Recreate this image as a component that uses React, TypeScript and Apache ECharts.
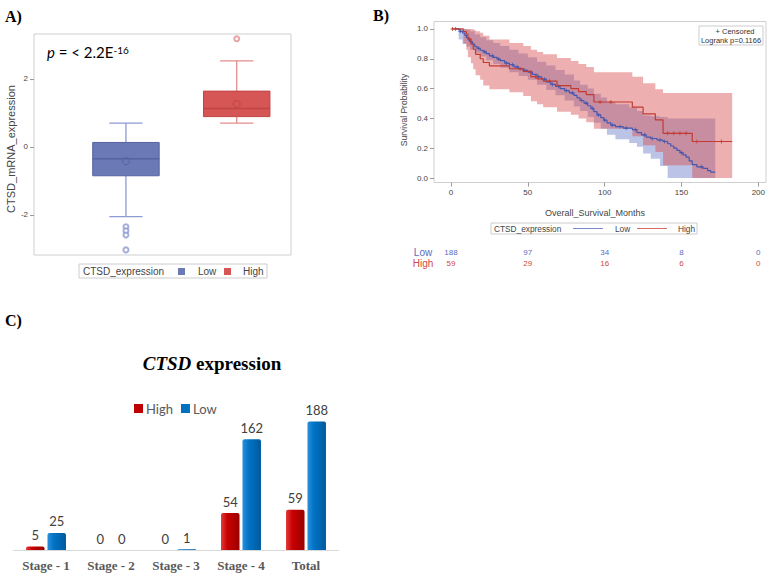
import React, { useEffect, useRef } from 'react';
import * as echarts from 'echarts';

// ---------- Panel A: boxplot ----------
const boxGroups = ['Low', 'High'];
// [min whisker, Q1, median, Q3, max whisker]
const boxStats = [
  [-2.05, -0.85, -0.35, 0.13, 0.7],
  [0.7, 0.89, 1.13, 1.64, 2.53],
];
const boxMeans = [-0.42, 1.26];
const lowOutliers = [-2.35, -2.47, -2.59, -3.03];
const highOutliers = [3.18];
const boxTicks = [-2, 0, 2];

// ---------- Panel B: Kaplan-Meier ----------
const kmLow: number[][] = [
  [3, 1.0], [5, 0.995], [6, 0.984], [7.5, 0.973], [9, 0.957], [10, 0.941], [11.5, 0.925], [12.5, 0.914],
  [14, 0.898], [15.5, 0.882], [17, 0.87], [19, 0.857], [21, 0.846], [23, 0.835], [25, 0.82], [27.5, 0.809],
  [30, 0.798], [32, 0.787], [35, 0.771], [38, 0.76], [41, 0.745], [44, 0.734], [47, 0.722], [50, 0.711],
  [53, 0.695], [56, 0.679], [59, 0.663], [62, 0.645], [65, 0.628], [68, 0.614], [71, 0.6], [74, 0.586],
  [77, 0.571], [80, 0.555], [82, 0.538], [84, 0.52], [86.5, 0.503], [89, 0.485], [91, 0.467], [93, 0.445],
  [95, 0.423], [97.5, 0.405], [99.5, 0.388], [101.5, 0.37], [104, 0.355], [107, 0.345], [112, 0.335],
  [118, 0.325], [121, 0.305], [124, 0.29], [127, 0.275], [130, 0.265], [134, 0.255], [138, 0.245],
  [141, 0.23], [143, 0.215], [145, 0.2], [147, 0.185], [149, 0.17], [151, 0.155], [153, 0.14], [155, 0.115],
  [157, 0.09], [160, 0.075], [164, 0.065], [167, 0.05], [169, 0.04], [172, 0.04],
];
const kmHigh: number[][] = [
  [0.5, 1.0], [8, 0.983], [10, 0.966], [11, 0.932], [13, 0.898], [14.5, 0.864], [16, 0.83], [19, 0.8],
  [21, 0.775], [25, 0.752], [38, 0.733], [47, 0.715], [52, 0.68], [56, 0.665], [60, 0.65], [69, 0.62],
  [78, 0.6], [83, 0.58], [88, 0.56], [93, 0.51], [118, 0.475], [125, 0.43], [133, 0.39], [138, 0.3],
  [157, 0.245], [183, 0.245],
];
const lowCensor = [6, 13, 18, 22, 27, 31, 36, 40, 43, 48, 52, 57, 61, 66, 70, 75, 79, 85, 88, 92, 96, 100,
  105, 110, 114, 120, 126, 131, 136, 139, 150, 163];
const highCensor = [1, 3, 12, 45, 55, 64, 97, 104, 141, 145, 149, 153, 160, 176];
// [time, lower, upper]
const bandLow: number[][] = [
  [3, 1.0, 1.0], [5, 0.93, 1.0], [7.5, 0.9, 1.0], [10, 0.88, 0.995], [12.5, 0.86, 0.985], [15.5, 0.84, 0.965],
  [19, 0.815, 0.945], [23, 0.79, 0.925], [27.5, 0.765, 0.905], [32, 0.74, 0.885], [38, 0.71, 0.86],
  [44, 0.685, 0.835], [50, 0.66, 0.81], [56, 0.625, 0.78], [62, 0.59, 0.755], [68, 0.555, 0.725],
  [74, 0.52, 0.695], [80, 0.48, 0.655], [84, 0.45, 0.625], [89, 0.41, 0.6], [93, 0.37, 0.565],
  [97.5, 0.33, 0.54], [101.5, 0.29, 0.51], [107, 0.26, 0.495], [116, 0.235, 0.475], [121, 0.21, 0.45],
  [125, 0.165, 0.42], [130, 0.13, 0.415], [136, 0.08, 0.41], [141, 0.0, 0.4], [172, 0.0, 0.4],
];
const bandHigh: number[][] = [
  [0.5, 1.0, 1.0], [8, 0.9, 1.0], [10, 0.86, 1.0], [11, 0.81, 1.0], [13, 0.77, 1.0], [14.5, 0.73, 0.995],
  [16, 0.69, 0.985], [19, 0.66, 0.975], [21, 0.62, 0.955], [25, 0.595, 0.93], [38, 0.575, 0.905],
  [47, 0.55, 0.885], [52, 0.515, 0.86], [56, 0.495, 0.845], [60, 0.475, 0.83], [69, 0.445, 0.805],
  [78, 0.425, 0.785], [83, 0.4, 0.765], [88, 0.375, 0.745], [93, 0.33, 0.71], [118, 0.28, 0.68],
  [125, 0.22, 0.635], [133, 0.175, 0.595], [138, 0.085, 0.57], [157, 0.0, 0.57], [183, 0.0, 0.57],
];
const kmTicksX = [0, 50, 100, 150, 200];
const kmTicksY = [0, 0.2, 0.4, 0.6, 0.8, 1.0];
const atRiskLow = [188, 97, 34, 8, 0];
const atRiskHigh = [59, 29, 16, 6, 0];

// ---------- Panel C: bars ----------
const stages = ['Stage - 1', 'Stage - 2', 'Stage - 3', 'Stage - 4', 'Total'];
const highCounts = [5, 0, 0, 54, 59];
const lowCounts = [25, 0, 1, 162, 188];

const SANS = 'Liberation Sans';
const SERIF = 'Liberation Serif';
const BLUE_LINE = '#4657ad';
const RED_LINE = '#c23b33';
const KM_MIN = -11.06;
const KM_MAX = 205;

function survAt(curve: number[][], t: number) {
  let v = curve[0][1];
  for (const p of curve) {
    if (p[0] <= t) v = p[1];
  }
  return v;
}

function bandPolygon(band: number[][], api: any) {
  const pts: number[][] = [];
  for (let i = 0; i < band.length - 1; i++) {
    pts.push(api.coord([band[i][0], band[i][2]]));
    pts.push(api.coord([band[i + 1][0], band[i][2]]));
  }
  for (let i = band.length - 2; i >= 0; i--) {
    pts.push(api.coord([band[i + 1][0], band[i][1]]));
    pts.push(api.coord([band[i][0], band[i][1]]));
  }
  return pts;
}

const boxFill = ['#6b79b7', '#d65656'];
const boxEdge = ['#56639f', '#c04444'];
const boxWhisker = ['#8e9ad2', '#e38d8d'];

const plusSymbol = 'path://M0,4L8,4M4,0L4,8';

export default function App() {
  const ref = useRef<HTMLDivElement>(null);
  useEffect(() => {
    const chart = echarts.init(ref.current!, null, { renderer: 'svg' });
    const option: any = {
      animation: false,
      backgroundColor: '#ffffff',
      grid: [
        { left: 34, top: 34, width: 257, height: 221, show: true, borderColor: '#cfcfcf', borderWidth: 1, containLabel: false },
        { left: 434, top: 21.5, width: 332, height: 161, show: true, borderColor: '#cfcfcf', borderWidth: 1, containLabel: false },
        { left: 13.5, top: 413.4, width: 325, height: 136.6, containLabel: false },
      ],
      xAxis: [
        { gridIndex: 0, type: 'value', min: -0.83, max: 1.49, show: false },
        {
          gridIndex: 1, type: 'value', min: KM_MIN, max: KM_MAX,
          axisLine: { show: false, onZero: false },
          axisTick: { show: true, customValues: kmTicksX, length: 4, lineStyle: { color: '#999' } },
          axisLabel: { customValues: kmTicksX, fontSize: 8, color: '#444', fontFamily: SANS, margin: 6 },
          splitLine: { show: false },
        },
        {
          gridIndex: 1, type: 'value', min: KM_MIN, max: KM_MAX, position: 'bottom', offset: 66,
          axisLine: { show: false, onZero: false }, axisTick: { show: false }, splitLine: { show: false },
          axisLabel: {
            customValues: kmTicksX, fontSize: 8, color: '#5a6cc0', fontFamily: SANS, margin: 0,
            formatter: (v: number) => String(atRiskLow[kmTicksX.indexOf(v)]),
          },
        },
        {
          gridIndex: 1, type: 'value', min: KM_MIN, max: KM_MAX, position: 'bottom', offset: 77,
          axisLine: { show: false, onZero: false }, axisTick: { show: false }, splitLine: { show: false },
          axisLabel: {
            customValues: kmTicksX, fontSize: 8, color: '#cf4a44', fontFamily: SANS, margin: 0,
            formatter: (v: number) => String(atRiskHigh[kmTicksX.indexOf(v)]),
          },
        },
        {
          gridIndex: 2, type: 'category', data: stages,
          axisLine: { show: true, lineStyle: { color: '#d9d9d9', width: 1 } },
          axisTick: { show: false },
          axisLabel: { fontFamily: SERIF, fontWeight: 'bold', fontSize: 13, color: '#595959', margin: 9 },
        },
      ],
      yAxis: [
        {
          gridIndex: 0, type: 'value', min: -3.18, max: 3.32,
          axisLine: { show: false, onZero: false },
          axisTick: { show: true, customValues: boxTicks, length: 4, lineStyle: { color: '#999' } },
          axisLabel: { customValues: boxTicks, fontSize: 8, color: '#444', fontFamily: SANS, margin: 6 },
          splitLine: { show: false },
        },
        {
          gridIndex: 1, type: 'value', min: -0.03, max: 1.05,
          axisLine: { show: false, onZero: false },
          axisTick: { show: true, customValues: kmTicksY, length: 4, lineStyle: { color: '#999' } },
          axisLabel: {
            customValues: kmTicksY, fontSize: 8, color: '#444', fontFamily: SANS, margin: 6,
            formatter: (v: number) => v.toFixed(1),
          },
          splitLine: { show: false },
        },
        { gridIndex: 2, type: 'value', min: 0, max: 200, show: false },
      ],
      legend: {
        left: 129, top: 397, itemWidth: 9, itemHeight: 9, itemGap: 8, icon: 'rect',
        textStyle: { fontFamily: 'Lato', fontSize: 13, color: '#595959', padding: [0, 0, 0, -2] },
        data: [
          { name: 'High', itemStyle: { color: '#c00000' } },
          { name: 'Low', itemStyle: { color: '#0070c0' } },
        ],
        selectedMode: false,
      },
      series: [
        // Panel A boxes
        {
          name: 'box', type: 'custom', xAxisIndex: 0, yAxisIndex: 0,
          data: boxStats.map((s, i) => [i, ...s, boxMeans[i]]),
          encode: { x: 0, y: [1, 2, 3, 4, 5, 6] },
          renderItem: (params: any, api: any) => {
            const i = params.dataIndex;
            const x = api.value(0);
            const lo = api.coord([x, api.value(1)]);
            const q1 = api.coord([x, api.value(2)]);
            const md = api.coord([x, api.value(3)]);
            const q3 = api.coord([x, api.value(4)]);
            const hi = api.coord([x, api.value(5)]);
            const mn = api.coord([x, api.value(6)]);
            const bw = api.size([0.6, 0])[0];
            const cw = api.size([0.3, 0])[0];
            const cx = lo[0];
            const ws = { stroke: boxWhisker[i], lineWidth: 1.3 };
            return {
              type: 'group',
              children: [
                { type: 'line', shape: { x1: cx, y1: q3[1], x2: cx, y2: hi[1] }, style: ws },
                { type: 'line', shape: { x1: cx, y1: q1[1], x2: cx, y2: lo[1] }, style: ws },
                { type: 'line', shape: { x1: cx - cw / 2, y1: hi[1], x2: cx + cw / 2, y2: hi[1] }, style: ws },
                { type: 'line', shape: { x1: cx - cw / 2, y1: lo[1], x2: cx + cw / 2, y2: lo[1] }, style: ws },
                {
                  type: 'rect', shape: { x: cx - bw / 2, y: q3[1], width: bw, height: q1[1] - q3[1] },
                  style: { fill: boxFill[i], stroke: boxEdge[i], lineWidth: 1 },
                },
                { type: 'line', shape: { x1: cx - bw / 2, y1: md[1], x2: cx + bw / 2, y2: md[1] }, style: { stroke: boxEdge[i], lineWidth: 1.5 } },
                { type: 'circle', shape: { cx, cy: mn[1], r: 3.5 }, style: { fill: 'none', stroke: boxEdge[i], lineWidth: 1 } },
              ],
            };
          },
        },
        {
          name: 'outLow', type: 'scatter', xAxisIndex: 0, yAxisIndex: 0,
          data: lowOutliers.map((v) => [0, v]), symbol: 'emptyCircle', symbolSize: 5,
          itemStyle: { color: boxWhisker[0], borderWidth: 1.2 },
        },
        {
          name: 'outHigh', type: 'scatter', xAxisIndex: 0, yAxisIndex: 0,
          data: highOutliers.map((v) => [1, v]), symbol: 'emptyCircle', symbolSize: 5,
          itemStyle: { color: boxWhisker[1], borderWidth: 1.2 },
        },
        // Panel B bands
        {
          name: 'bandLow', type: 'custom', xAxisIndex: 1, yAxisIndex: 1, silent: true,
          data: [[0, 0]],
          renderItem: (_p: any, api: any) => ({
            type: 'polygon', shape: { points: bandPolygon(bandLow, api) },
            style: { fill: 'rgba(112,130,205,0.48)', stroke: 'none' },
          }),
        },
        {
          name: 'bandHigh', type: 'custom', xAxisIndex: 1, yAxisIndex: 1, silent: true,
          data: [[0, 0]],
          renderItem: (_p: any, api: any) => ({
            type: 'polygon', shape: { points: bandPolygon(bandHigh, api) },
            style: { fill: 'rgba(214,78,78,0.45)', stroke: 'none' },
          }),
        },
        {
          name: 'kmLow', type: 'line', xAxisIndex: 1, yAxisIndex: 1, step: 'end', showSymbol: false,
          data: kmLow, lineStyle: { color: BLUE_LINE, width: 1.2 },
        },
        {
          name: 'kmHigh', type: 'line', xAxisIndex: 1, yAxisIndex: 1, step: 'end', showSymbol: false,
          data: kmHigh, lineStyle: { color: RED_LINE, width: 1.2 },
        },
        {
          name: 'cenLow', type: 'scatter', xAxisIndex: 1, yAxisIndex: 1, symbol: plusSymbol, symbolSize: 4,
          data: lowCensor.map((t) => [t, survAt(kmLow, t)]),
          itemStyle: { color: 'none', borderColor: BLUE_LINE, borderWidth: 1 },
        },
        {
          name: 'cenHigh', type: 'scatter', xAxisIndex: 1, yAxisIndex: 1, symbol: plusSymbol, symbolSize: 4,
          data: highCensor.map((t) => [t, survAt(kmHigh, t)]),
          itemStyle: { color: 'none', borderColor: RED_LINE, borderWidth: 1 },
        },
        // Panel C bars
        {
          name: 'High', type: 'bar', xAxisIndex: 4, yAxisIndex: 2, data: highCounts,
          barWidth: 18.5, barGap: '16%',
          itemStyle: {
            borderRadius: [2, 2, 0, 0],
            color: new echarts.graphic.LinearGradient(0, 0, 1, 0, [
              { offset: 0, color: '#e23a3a' }, { offset: 0.35, color: '#c80000' }, { offset: 1, color: '#9a0000' },
            ]),
          },
          label: { show: true, position: 'top', distance: 5, fontFamily: 'Lato', fontSize: 13, color: '#404040' },
        },
        {
          name: 'Low', type: 'bar', xAxisIndex: 4, yAxisIndex: 2, data: lowCounts,
          barWidth: 18.5, barGap: '16%',
          itemStyle: {
            borderRadius: [2, 2, 0, 0],
            color: new echarts.graphic.LinearGradient(0, 0, 1, 0, [
              { offset: 0, color: '#2a8fdc' }, { offset: 0.35, color: '#0072c4' }, { offset: 1, color: '#005a9e' },
            ]),
          },
          label: { show: true, position: 'top', distance: 5, fontFamily: 'Lato', fontSize: 13, color: '#404040' },
        },
      ],
      graphic: [
        // panel letters
        { type: 'text', x: 5, y: 16, style: { text: 'A)', font: `bold 16px "${SERIF}"`, fill: '#000', verticalAlign: 'middle' } },
        { type: 'text', x: 373, y: 15, style: { text: 'B)', font: `bold 16px "${SERIF}"`, fill: '#000', verticalAlign: 'middle' } },
        { type: 'text', x: 5, y: 320, style: { text: 'C)', font: `bold 16px "${SERIF}"`, fill: '#000', verticalAlign: 'middle' } },
        // Panel A texts
        {
          type: 'text', x: 47, y: 52,
          style: {
            text: '{i|p} = < 2.2E{s|-16}', fill: '#000', fontFamily: 'Lato', fontSize: 15, verticalAlign: 'middle',
            rich: {
              i: { fontStyle: 'italic', fontFamily: 'Lato', fontSize: 15, fill: '#000' },
              s: { fontFamily: 'Lato', fontSize: 10, verticalAlign: 'top', lineHeight: 10, fill: '#000' },
            },
          },
        },
        {
          type: 'text', x: 11, y: 149, rotation: Math.PI / 2,
          style: { text: 'CTSD_mRNA_expression', fontFamily: SANS, fontSize: 11, fill: '#444', align: 'center', verticalAlign: 'middle' },
        },
        { type: 'rect', shape: { x: 79, y: 264, width: 188, height: 14 }, style: { fill: '#fff', stroke: '#cccccc', lineWidth: 1 } },
        { type: 'text', x: 83, y: 271.5, style: { text: 'CTSD_expression', fontFamily: SANS, fontSize: 10, fill: '#444', verticalAlign: 'middle' } },
        { type: 'rect', shape: { x: 178, y: 268, width: 7, height: 7 }, style: { fill: boxFill[0] } },
        { type: 'text', x: 198, y: 271.5, style: { text: 'Low', fontFamily: SANS, fontSize: 10, fill: '#444', verticalAlign: 'middle' } },
        { type: 'rect', shape: { x: 224, y: 268, width: 7, height: 7 }, style: { fill: boxFill[1] } },
        { type: 'text', x: 243, y: 271.5, style: { text: 'High', fontFamily: SANS, fontSize: 10, fill: '#444', verticalAlign: 'middle' } },
        // Panel B texts
        {
          type: 'text', x: 404, y: 110, rotation: Math.PI / 2,
          style: { text: 'Survival Probability', fontFamily: SANS, fontSize: 8.5, fill: '#444', align: 'center', verticalAlign: 'middle' },
        },
        { type: 'text', x: 595, y: 212.5, style: { text: 'Overall_Survival_Months', fontFamily: SANS, fontSize: 9, fill: '#444', align: 'center', verticalAlign: 'middle' } },
        { type: 'rect', shape: { x: 491, y: 223, width: 206, height: 11 }, style: { fill: '#fff', stroke: '#cccccc', lineWidth: 1 } },
        { type: 'text', x: 494, y: 228.5, style: { text: 'CTSD_expression', fontFamily: SANS, fontSize: 8.3, fill: '#444', verticalAlign: 'middle' } },
        { type: 'line', shape: { x1: 573, y1: 228.5, x2: 603, y2: 228.5 }, style: { stroke: '#7a88cc', lineWidth: 1 } },
        { type: 'text', x: 615, y: 228.5, style: { text: 'Low', fontFamily: SANS, fontSize: 8.3, fill: '#444', verticalAlign: 'middle' } },
        { type: 'line', shape: { x1: 637, y1: 228.5, x2: 667, y2: 228.5 }, style: { stroke: '#d96a62', lineWidth: 1 } },
        { type: 'text', x: 678, y: 228.5, style: { text: 'High', fontFamily: SANS, fontSize: 8.3, fill: '#444', verticalAlign: 'middle' } },
        { type: 'rect', shape: { x: 699, y: 26, width: 64, height: 19 }, style: { fill: '#fff', stroke: '#cccccc', lineWidth: 1 } },
        { type: 'text', x: 735, y: 31.5, style: { text: '+ Censored', fontFamily: SANS, fontSize: 7.5, fill: '#333', align: 'center', verticalAlign: 'middle' } },
        { type: 'text', x: 731, y: 40.5, style: { text: 'Logrank p=0.1166', fontFamily: SANS, fontSize: 7.5, fill: '#333', align: 'center', verticalAlign: 'middle' } },
        { type: 'text', x: 423, y: 252, style: { text: 'Low', fontFamily: SANS, fontSize: 10, fill: '#5a6cc0', align: 'center', verticalAlign: 'middle' } },
        { type: 'text', x: 423, y: 263.5, style: { text: 'High', fontFamily: SANS, fontSize: 10, fill: '#cf4a44', align: 'center', verticalAlign: 'middle' } },
        // Panel C title
        {
          type: 'text', x: 212, y: 363,
          style: {
            text: '{b|CTSD} expression', fontFamily: SERIF, fontWeight: 'bold', fontSize: 19, fill: '#000',
            align: 'center', verticalAlign: 'middle',
            rich: { b: { fontFamily: SERIF, fontWeight: 'bold', fontStyle: 'italic', fontSize: 19, fill: '#000' } },
          },
        },
      ],
    };
    chart.setOption(option);
    return () => chart.dispose();
  }, []);
  return (
    <div
      ref={ref}
      style={{ position: 'absolute', left: 0, top: 0, width: 778, height: 580, background: '#fff' }}
    />
  );
}
